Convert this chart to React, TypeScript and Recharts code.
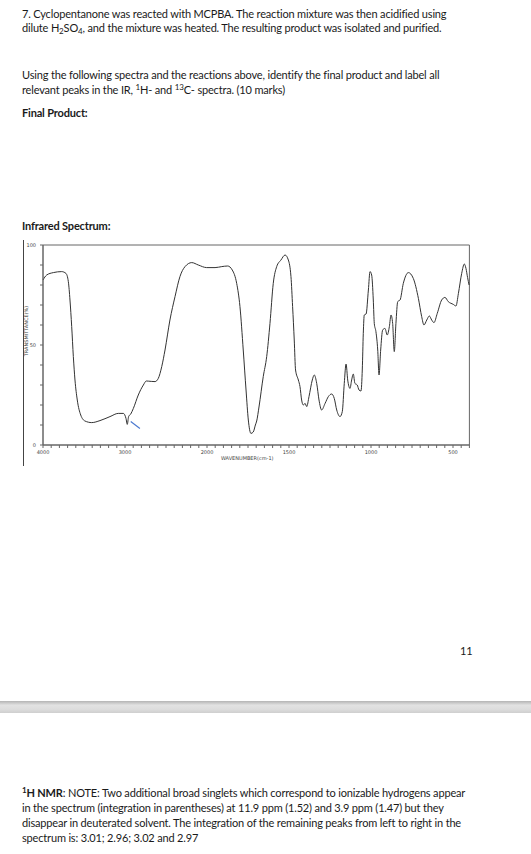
import React from "react";
import { LineChart, Line, XAxis, YAxis, ReferenceArea, ReferenceLine, Label } from "recharts";

// IR spectrum (wavenumber in cm-1, transmittance in %)
const wavenumbers = [
  4000, 3955, 3874, 3772, 3720, 3691, 3671, 3650, 3630, 3610, 3582, 3540, 3488, 3406, 3305, 3183,
  3082, 3020, 2988, 2972, 2956, 2930, 2898, 2838, 2776, 2740, 2680, 2634, 2594, 2552, 2512, 2452,
  2390, 2330, 2268, 2186, 2106, 2004, 1951, 1910, 1874, 1846, 1819, 1799, 1779, 1762, 1748, 1732,
  1718, 1705, 1697, 1683, 1657, 1636, 1616, 1596, 1575, 1549, 1524, 1504, 1488, 1478, 1468, 1460,
  1443, 1433, 1423, 1413, 1402, 1392, 1378, 1358, 1346, 1331, 1317, 1301, 1280, 1260, 1240, 1224,
  1209, 1189, 1175, 1163, 1152, 1142, 1128, 1118, 1108, 1098, 1084, 1073, 1061, 1053, 1047, 1041,
  1030, 1016, 1006, 996, 986, 980, 970, 959, 951, 941, 929, 915, 901, 888, 878, 868,
  858, 848, 837, 823, 803, 772, 742, 711, 691, 677, 660, 644, 630, 616, 596, 569,
  549, 529, 498, 482, 467, 447, 431, 421, 411, 402,
];
const transmittance = [
  82.5, 85, 86.2, 86.7, 85.8, 81.7, 72.5, 59.2, 44.2, 32.5, 22.5, 15, 12, 11.2, 12.2, 14.2,
  15.8, 15.8, 13.3, 10.3, 14.2, 15.5, 18.3, 25, 30, 32, 31.8, 31.7, 33.3, 39.2, 47.5, 62.5,
  74.2, 84.2, 89.2, 91.2, 90, 88.7, 88.7, 89.2, 89.5, 87.5, 80.8, 69.2, 47.5, 27.5, 12.5, 5.8,
  6.5, 10, 12, 19, 34.2, 44.2, 60.8, 80.8, 89.2, 92.5, 95, 92.5, 84.2, 69.2, 52.5, 37.5,
  32.5, 29.2, 22.5, 20, 20.8, 19.2, 24.2, 32.5, 35, 30.8, 22.5, 17.5, 20.8, 24.2, 25.5, 23.3,
  17.5, 14.2, 16.7, 30.8, 40.5, 32.5, 28.3, 32.5, 35.5, 30.8, 30, 27.5, 27, 38, 55.8, 65,
  65.5, 77.5, 86.7, 85, 72.5, 60.8, 56.7, 47.5, 35, 47.5, 57.5, 58.3, 55, 59.2, 65, 60.8,
  46.7, 60.8, 71.7, 72.5, 80.8, 86.2, 83.3, 73.3, 64.2, 60, 62.5, 64.5, 62.5, 61.2, 65.8, 72.5,
  73.8, 71.7, 70.3, 69.5, 75.8, 85.8, 90.5, 88.3, 83.7, 80,
];

const xTickLabels = [4000, 3000, 2000, 1500, 1000, 500];
const yTickLabels = [0, 50, 100];

// hand-drawn blue pen mark near the C-H stretch
const penMarkWn = [2930, 2818];
const penMarkT = [11.7, 8.3];

// the scale is compressed 2x above 2000 cm-1, like the original plot
const toPos = (wn: number) => (wn >= 2000 ? (4000 - wn) / 2 : 1000 + (2000 - wn));
const fromPos = (p: number) => (p <= 1000 ? 4000 - p * 2 : 2000 - (p - 1000));

const data = wavenumbers.map((wn, i) => ({ pos: toPos(wn), t: transmittance[i] }));

const xTicks: number[] = [];
for (let p = 0; p <= 2600; p += 50) xTicks.push(p);
const yTicks: number[] = [];
for (let v = 0; v <= 100; v += 10) yTicks.push(v);

const FONT = "Lato, 'Open Sans', sans-serif";

const line = (top: number, children: React.ReactNode, extra: React.CSSProperties = {}) => (
  <div
    style={{
      position: "absolute",
      left: 22,
      top: top - 7.5,
      lineHeight: "15px",
      whiteSpace: "nowrap",
      ...extra,
    }}
  >
    {children}
  </div>
);

const sub = (s: string) => <sub style={{ fontSize: 8, verticalAlign: "-2px", lineHeight: 0 }}>{s}</sub>;
const sup = (s: string) => <sup style={{ fontSize: 8, verticalAlign: "4px", lineHeight: 0 }}>{s}</sup>;

export default function App() {
  const axisColor = "#666";
  return (
    <div
      style={{
        position: "absolute",
        left: 0,
        top: 0,
        width: 531,
        height: 854,
        background: "#fff",
        fontFamily: FONT,
        fontSize: 11,
        letterSpacing: -0.17,
        color: "#1a1a1a",
        overflow: "hidden",
      }}
    >
      {line(13.5, "7. Cyclopentanone was reacted with MCPBA. The reaction mixture was then acidified using")}
      {line(27.5, <>dilute H{sub("2")}SO{sub("4")}, and the mixture was heated. The resulting product was isolated and purified.</>)}
      {line(74, "Using the following spectra and the reactions above, identify the final product and label all")}
      {line(89, <>relevant peaks in the IR, {sup("1")}H- and {sup("13")}C- spectra. (10 marks)</>)}
      {line(112, "Final Product:", { fontWeight: 700 })}
      {line(225, "Infrared Spectrum:", { fontWeight: 700 })}

      <div style={{ position: "absolute", left: 23, top: 240, width: 1, height: 226, background: "#444" }} />

      <div style={{ position: "absolute", left: 0, top: 230, letterSpacing: 0 }}>
        <LineChart width={531} height={250} data={data} margin={{ top: 15, right: 61.6, left: 23, bottom: 15 }}>
          <XAxis
            dataKey="pos"
            type="number"
            domain={[0, 2600]}
            ticks={xTicks}
            interval={0}
            height={20}
            tickSize={3}
            tickMargin={2}
            tick={{ fontSize: 5, fill: "#444", fontFamily: "'DejaVu Sans', sans-serif" }}
            tickFormatter={(p: number) => {
              const wn = fromPos(p);
              return xTickLabels.includes(wn) ? String(wn) : "";
            }}
            axisLine={{ stroke: axisColor }}
            tickLine={{ stroke: axisColor }}
          >
            <Label
              content={({ viewBox }: any) => (
                <text
                  x={viewBox.x + viewBox.width / 2 - 9}
                  y={viewBox.y + 15}
                  textAnchor="middle"
                  fontSize={5}
                  fill="#444"
                  fontFamily="'DejaVu Sans', sans-serif"
                >
                  WAVENUMBER(cm-1)
                </text>
              )}
            />
          </XAxis>
          <YAxis
            type="number"
            domain={[0, 100]}
            ticks={yTicks}
            interval={0}
            width={20}
            tickSize={3}
            tickMargin={4}
            tick={{ fontSize: 5, fill: "#444", fontFamily: "'DejaVu Sans', sans-serif" }}
            tickFormatter={(v: number) => (yTickLabels.includes(v) ? String(v) : "")}
            axisLine={{ stroke: axisColor }}
            tickLine={{ stroke: axisColor }}
          >
            <Label
              content={({ viewBox }: any) => {
                const x = viewBox.x + 5;
                const y = viewBox.y + viewBox.height / 2 - 14;
                return (
                  <text
                    x={x}
                    y={y}
                    transform={`rotate(-90 ${x} ${y})`}
                    textAnchor="middle"
                    fontSize={5}
                    fill="#444"
                    fontFamily="'DejaVu Sans', sans-serif"
                  >
                    TRANSMITTANCE(%)
                  </text>
                );
              }}
            />
          </YAxis>
          <ReferenceArea x1={0} x2={2600} y1={0} y2={100} fill="none" stroke={axisColor} strokeWidth={1} />
          <Line
            dataKey="t"
            type="monotone"
            stroke="#333"
            strokeWidth={1}
            dot={false}
            isAnimationActive={false}
          />
          <ReferenceLine
            segment={[
              { x: toPos(penMarkWn[0]), y: penMarkT[0] },
              { x: toPos(penMarkWn[1]), y: penMarkT[1] },
            ]}
            stroke="#4a78cf"
            strokeWidth={1.2}
          />
        </LineChart>
      </div>

      <div style={{ position: "absolute", left: 460, top: 643, lineHeight: "15px" }}>11</div>

      <div
        style={{
          position: "absolute",
          left: 0,
          top: 701,
          width: 531,
          height: 12,
          background: "linear-gradient(#b4b4b4, #e2e2e2 35%, #dcdcdc 70%, #cfcfcf)",
        }}
      />

      {line(792, <><b>{sup("1")}H NMR</b>: NOTE: Two additional broad singlets which correspond to ionizable hydrogens appear</>)}
      {line(807, "in the spectrum (integration in parentheses) at 11.9 ppm (1.52) and 3.9 ppm (1.47) but they")}
      {line(822, "disappear in deuterated solvent. The integration of the remaining peaks from left to right in the")}
      {line(837, "spectrum is: 3.01; 2.96; 3.02 and 2.97")}
    </div>
  );
}
